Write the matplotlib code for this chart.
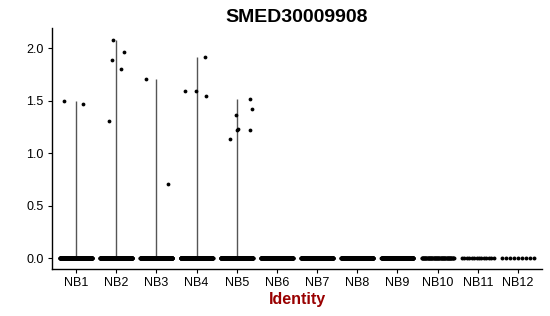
import numpy as np
import matplotlib.pyplot as plt

plt.rcParams['font.family'] = ['Liberation Sans', 'DejaVu Sans']

# identities (clusters)
idents = ['NB1', 'NB2', 'NB3', 'NB4', 'NB5', 'NB6',
          'NB7', 'NB8', 'NB9', 'NB10', 'NB11', 'NB12']

# number of cells with zero expression per identity (estimated)
zero_counts = [300, 300, 300, 300, 300, 260, 260, 240, 200, 60, 14, 9]

# non-zero expression values per identity
expr = {
    'NB1': [1.50, 1.47],
    'NB2': [2.08, 1.965, 1.89, 1.80, 1.31],
    'NB3': [1.71, 0.71],
    'NB4': [1.92, 1.59, 1.59, 1.55],
    'NB5': [1.515, 1.42, 1.36, 1.23, 1.225, 1.135, 1.22],
}
# horizontal jitter for the non-zero points
jitter = {
    'NB1': [-0.29, 0.16],
    'NB2': [-0.07, 0.20, -0.11, 0.13, -0.19],
    'NB3': [-0.26, 0.28],
    'NB4': [0.20, -0.29, -0.01, 0.23],
    'NB5': [0.32, 0.37, -0.01, 0.03, 0.01, -0.17, 0.34],
}

fig = plt.figure(figsize=(5.5, 3.16), dpi=100)
ax = fig.add_axes([0.0945, 0.1487, 0.891, 0.7627])

for i, name in enumerate(idents):
    vals = expr.get(name, [])
    # thin violin: collapses to a line from 0 up to the max value
    if vals:
        ax.vlines(i, 0, max(vals), color='#555555', lw=1.0, zorder=1)
    # zero points spread across the jitter width
    xs = i + np.linspace(-0.4, 0.4, zero_counts[i])
    ax.scatter(xs, np.zeros(zero_counts[i]), s=8, color='black',
               linewidths=0, zorder=2)
    if vals:
        ax.scatter(i + np.array(jitter[name]), vals, s=7.5, color='black',
                   linewidths=0, zorder=3)

ax.set_xlim(-0.6, len(idents) - 1 + 0.6)
ax.set_ylim(-0.1045, 2.1945)
ax.set_xticks(range(len(idents)))
ax.set_xticklabels(idents)
ax.set_yticks([0.0, 0.5, 1.0, 1.5, 2.0])
ax.set_yticklabels(['0.0', '0.5', '1.0', '1.5', '2.0'])
ax.tick_params(labelsize=9, length=3, width=0.8, colors='black', pad=3)

for side in ['top', 'right']:
    ax.spines[side].set_visible(False)
for side in ['left', 'bottom']:
    ax.spines[side].set_linewidth(1.0)

ax.set_title('SMED30009908', fontsize=14, fontweight='bold', pad=4)
ax.set_xlabel('Identity', fontsize=11.5, fontweight='bold', color='#990000',
              labelpad=2)

fig.savefig('out.png', dpi=100)
